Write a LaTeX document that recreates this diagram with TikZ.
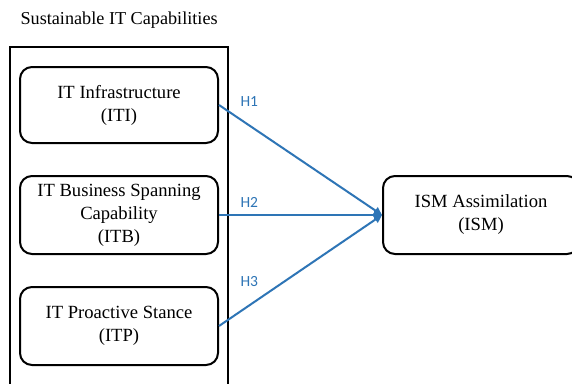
\documentclass[tikz,border=0pt]{standalone}
\usepackage{fontspec}
\setmainfont{Liberation Serif}
\newfontfamily\hfont{Carlito}
\usetikzlibrary{arrows.meta}
\definecolor{linkblue}{HTML}{2E75B6}
\tikzset{
  capbox/.style={draw=black, line width=2pt, rounded corners=12pt, align=center,
    font=\fontsize{18.6}{23}\selectfont, inner sep=0pt},
  link/.style={draw=linkblue, line width=2pt, -{Triangle[length=8pt,width=8pt]}},
  hlabel/.style={text=linkblue, font=\hfont\fontsize{15.5}{17}\selectfont, anchor=west}
}
\begin{document}
\begin{tikzpicture}[x=1pt,y=-1pt]
  \useasboundingbox (0,0) rectangle (572,383);
  \clip (0,0) rectangle (572,383);
  \fill[white] (0,0) rectangle (572,383);
  % group title and frame
  \node[font=\fontsize{18.2}{21}\selectfont, anchor=west] (title) at (17,20) {Sustainable IT Capabilities};
  \draw[line width=2pt] (10,47) rectangle (228,395);
  % construct boxes
  \node[capbox, minimum width=198pt, minimum height=76pt] (iti) at (119,105) {IT Infrastructure\\(ITI)};
  \node[capbox, minimum width=198pt, minimum height=78pt] (itb) at (119,215) {IT Business Spanning\\Capability\\(ITB)};
  \node[capbox, minimum width=198pt, minimum height=78pt] (itp) at (119,326) {IT Proactive Stance\\(ITP)};
  \node[capbox, minimum width=196pt, minimum height=78pt] (ism) at (481,215) {ISM Assimilation\\(ISM)};
  % hypotheses
  \draw[link] (iti.east) -- (ism.west);
  \draw[link] (itb.east) -- (ism.west);
  \draw[link] (itp.east) -- (ism.west);
  \node[hlabel] (h1) at (237,102) {H1};
  \node[hlabel] (h2) at (237,202) {H2};
  \node[hlabel] (h3) at (237,282) {H3};
\end{tikzpicture}
\end{document}
